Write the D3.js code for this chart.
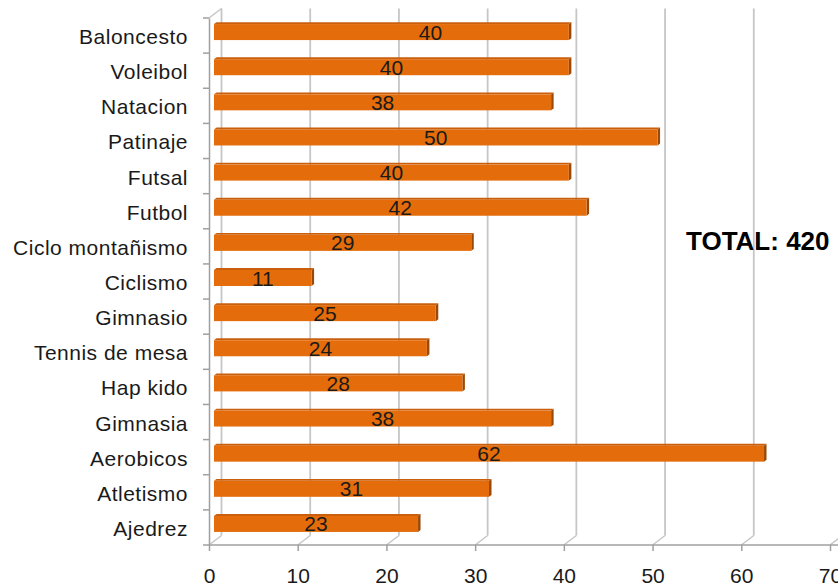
<!DOCTYPE html>
<html><head><meta charset="utf-8">
<script src="https://cdn.jsdelivr.net/npm/d3@7"></script>
<style>html,body{margin:0;padding:0;background:#fff;}svg{display:block;}</style>
</head><body>
<svg id="c" width="838" height="586"></svg>
<script>
const categories = ["Baloncesto","Voleibol","Natacion","Patinaje","Futsal","Futbol","Ciclo montañismo","Ciclismo","Gimnasio","Tennis de mesa","Hap kido","Gimnasia","Aerobicos","Atletismo","Ajedrez"];
const values = [40,40,38,50,40,42,29,11,25,24,28,38,62,31,23];
const tickValues = [0,10,20,30,40,50,60,70];
const totalLabel = "TOTAL: 420";

const svg = d3.select("#c");
const font = "'Liberation Sans', Arial, sans-serif";
const x = d3.scaleLinear().domain([0,70]).range([209,830]);
const y = d3.scaleBand().domain(categories).range([18,545]).paddingInner(0).paddingOuter(0);
const DX = 12.5, DY = -9.5; // depth offset
const gridCol = "#c6c6c6", axisCol = "#a0a0a0";

// back gridlines (vertical, including left back wall line)
svg.append("g").selectAll("line").data(tickValues).join("line")
  .attr("x1", d => x(d)+DX).attr("x2", d => x(d)+DX)
  .attr("y1", 18+DY).attr("y2", 545+DY)
  .attr("stroke", gridCol).attr("stroke-width", 1.8);
// floor diagonals
svg.append("g").selectAll("line").data(tickValues).join("line")
  .attr("x1", d => x(d)).attr("x2", d => x(d)+DX)
  .attr("y1", 545).attr("y2", 545+DY)
  .attr("stroke", gridCol).attr("stroke-width", 1.5);
// top-left wall diagonal
svg.append("line").attr("x1", x(0)).attr("y1", 18).attr("x2", x(0)+DX).attr("y2", 18+DY)
  .attr("stroke", gridCol).attr("stroke-width", 1.5);

// left axis
const yAxis = d3.axisLeft(y).tickSize(0).tickFormat("");
const gy = svg.append("g").attr("transform", `translate(${x(0)},0)`).call(yAxis);
gy.select(".domain").attr("stroke", axisCol).attr("stroke-width", 1.5);
// category boundary ticks
const bounds = categories.map(c => y(c)).concat([545]);
svg.append("g").selectAll("line").data(bounds).join("line")
  .attr("x1", x(0)-6).attr("x2", x(0)).attr("y1", d => d).attr("y2", d => d)
  .attr("stroke", axisCol).attr("stroke-width", 1.5);

// bottom axis
const xAxis = d3.axisBottom(x).tickValues(tickValues).tickSize(6).tickSizeOuter(0).tickPadding(20);
const gx = svg.append("g").attr("transform", "translate(0,545)").call(xAxis);
gx.select(".domain").attr("d", `M${x(0)},0H838`).attr("stroke", axisCol).attr("stroke-width", 1.5);
gx.selectAll(".tick line").attr("stroke", axisCol).attr("stroke-width", 1.5);
gx.selectAll(".tick text").attr("font-family", font).attr("font-size", 21).attr("fill", "#1a1a1a")
  .attr("dy", null).attr("y", 38);

// category labels
svg.append("g").selectAll("text").data(categories).join("text")
  .attr("x", 188).attr("y", d => y(d) + y.bandwidth()/2 + 8.5)
  .attr("text-anchor", "end").attr("font-family", font).attr("font-size", 21)
  .attr("letter-spacing", "0.5px").attr("fill", "#1a1a1a")
  .text(d => d);

// bars (3D)
const d0 = 0.4, dd = 0.2, bh = 16;
const bars = svg.append("g").selectAll("g").data(categories.map((c,i)=>({c, v: values[i], i}))).join("g");
const bx0 = x(0) + DX*d0;
const bx1 = d => x(d.v) + DX*d0;
const bcy = d => y(d.c) + y.bandwidth()/2 + DY*d0 + 0.3;
const ox = DX*dd, oy = DY*dd;
// top face
bars.append("path").attr("d", d => {
  const t = bcy(d) - bh/2, x1 = bx1(d);
  return `M${bx0},${t}L${x1},${t}L${x1+ox},${t+oy}L${bx0+ox},${t+oy}Z`;
}).attr("fill", "#c95f0d");
// right cap
bars.append("path").attr("d", d => {
  const t = bcy(d) - bh/2, b = t + bh, x1 = bx1(d);
  return `M${x1},${t}L${x1+ox},${t+oy}L${x1+ox},${b+oy}L${x1},${b}Z`;
}).attr("fill", "#9a4a08");
// front face
bars.append("rect").attr("x", bx0).attr("y", d => bcy(d) - bh/2)
  .attr("width", d => bx1(d) - bx0).attr("height", bh).attr("fill", "#e46c0a");

// value labels
bars.append("text")
  .attr("x", d => d.i === 0 ? x(24.4) + DX*d0 : (bx0 + bx1(d))/2)
  .attr("y", d => bcy(d) + 7.5)
  .attr("text-anchor", "middle").attr("font-family", font).attr("font-size", 21).attr("fill", "#1a1a1a")
  .text(d => d.v);

// total annotation
svg.append("text").attr("x", 686).attr("y", 250).attr("font-family", font)
  .attr("font-weight", "bold").attr("font-size", 26).attr("fill", "#000").text(totalLabel);
</script>
</body></html>
